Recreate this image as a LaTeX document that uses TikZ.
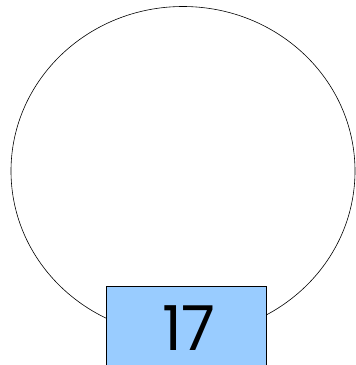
\documentclass[tikz,border=0pt]{standalone}
\usepackage{fontspec}
\setmainfont{Poppins}
\definecolor{BoxClr}{rgb}{0.6,0.8,1}

\begin{document}
\begin{tikzpicture}[x=1pt,y=-1pt]
\useasboundingbox (0,0) rectangle (356,365);
\clip (0,0) rectangle (356,365);

\draw[line width=0.6pt,black] (183,171) ellipse [x radius=172,y radius=164.5];

\node[draw=black,line width=0.6pt,fill=BoxClr,minimum width=160.8pt,minimum height=90pt,
  inner sep=0pt,anchor=north west,font=\fontsize{60}{60}\selectfont] (num) at (105.5,285.7) {};
\node[font=\fontsize{62}{62}\selectfont,inner sep=0pt] (numtxt) at (189,328) {17};

\end{tikzpicture}
\end{document}
